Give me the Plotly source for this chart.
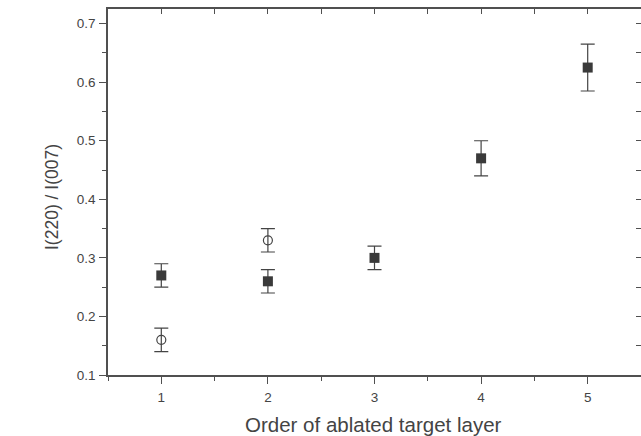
import plotly.graph_objects as go

layers = [1, 2, 3, 4, 5]
filled_vals = [0.27, 0.26, 0.30, 0.47, 0.625]
filled_err = [0.02, 0.02, 0.02, 0.03, 0.04]

open_layers = [1, 2]
open_vals = [0.16, 0.33]
open_err = [0.02, 0.02]

x_title = "Order of ablated target layer"
y_title = "I(220) / I(007)"

ink = "#444444"
axis_c = "#505050"
font = "Liberation Sans, Arial, sans-serif"

fig = go.Figure()
fig.add_trace(go.Scatter(
    x=layers, y=filled_vals, mode="markers",
    marker=dict(symbol="square", size=10, color="#3a3a3a"),
    error_y=dict(type="data", array=filled_err, visible=True, color=ink, thickness=1.2, width=7),
    showlegend=False))
fig.add_trace(go.Scatter(
    x=open_layers, y=open_vals, mode="markers",
    marker=dict(symbol="circle-open", size=9, color=ink, line=dict(width=1.2)),
    error_y=dict(type="data", array=open_err, visible=True, color=ink, thickness=1.2, width=7),
    showlegend=False))
# invisible trace for mirrored axes
fig.add_trace(go.Scatter(x=[1], y=[0.3], xaxis="x2", yaxis="y2", mode="markers",
                         marker=dict(opacity=0), showlegend=False, hoverinfo="skip"))

xr = [0.5, 5.5]
yr = [0.1, 0.725]

fig.update_layout(
    width=641, height=436,
    margin=dict(l=108, r=0, t=9, b=61),
    paper_bgcolor="white", plot_bgcolor="white",
    font=dict(family=font, color=ink, size=13),
    xaxis=dict(range=xr, tickvals=layers, ticks="outside", ticklen=7, tickwidth=1.3,
               tickcolor=axis_c, showline=True, linecolor=axis_c, linewidth=1.6,
               showgrid=False, zeroline=False, tickfont=dict(size=13.5, color=ink),
               ticklabelstandoff=2,
               minor=dict(dtick=0.5, tick0=0.5, ticks="outside", ticklen=4, tickwidth=1.3, tickcolor=axis_c)),
    yaxis=dict(range=yr, tickvals=[0.1, 0.2, 0.3, 0.4, 0.5, 0.6, 0.7], tickformat=".1f",
               ticks="outside", ticklen=7, tickwidth=1.3, tickcolor=axis_c,
               showline=True, linecolor=axis_c, linewidth=1.6, showgrid=False, zeroline=False,
               tickfont=dict(size=13.5, color=ink), ticklabelstandoff=1,
               minor=dict(dtick=0.05, tick0=0.1, ticks="outside", ticklen=4, tickwidth=1.3, tickcolor=axis_c)),
    xaxis2=dict(range=xr, overlaying="x", side="top", anchor="y", ticks="inside", ticklen=5,
                tickwidth=1.3, tickcolor=axis_c, dtick=0.5, tick0=0.5, showticklabels=False,
                showline=True, linecolor=axis_c, linewidth=1.6, showgrid=False, zeroline=False),
    yaxis2=dict(range=yr, overlaying="y", side="right", anchor="x", ticks="inside", ticklen=5,
                tickwidth=1.3, tickcolor=axis_c, dtick=0.05, tick0=0.1, showticklabels=False,
                showline=False, showgrid=False, zeroline=False),
    annotations=[
        dict(text=x_title, xref="paper", yref="paper", x=(373.5 - 108) / 533, y=(375 - 424) / 366,
             showarrow=False, font=dict(size=20.5, color=ink), xanchor="center", yanchor="middle"),
        dict(text=y_title, xref="paper", yref="paper", x=(52 - 108) / 533, y=(375 - 197) / 366,
             showarrow=False, textangle=-90, font=dict(size=17.5, color=ink),
             xanchor="center", yanchor="middle"),
    ],
)

fig.write_html("out.html")
